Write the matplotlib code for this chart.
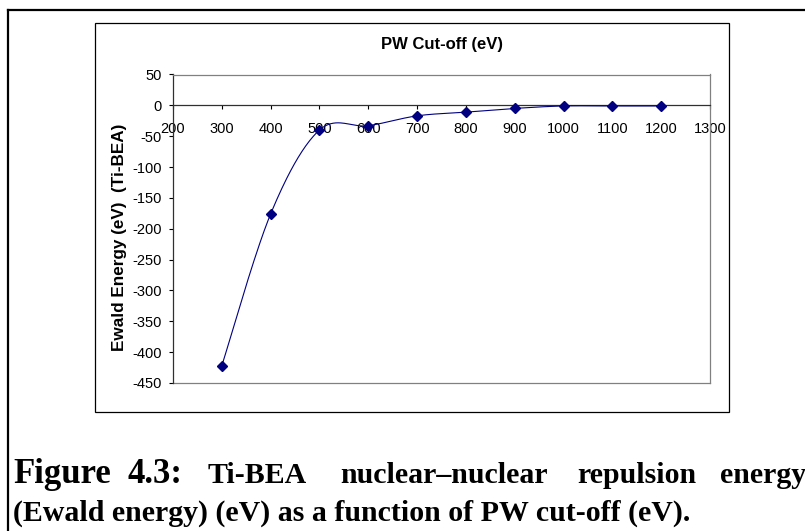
import numpy as np
import matplotlib
matplotlib.use("Agg")
import matplotlib.pyplot as plt
from matplotlib.lines import Line2D
from matplotlib.patches import Rectangle


# ==============================
# DADOS
# ==============================
cutoff_ev = [300, 400, 500, 600, 700, 800, 900, 1000, 1100, 1200]
ewald_ev = [-422, -176, -40, -33, -17, -11, -5, -1, -1, -1]

x_ticks = list(range(200, 1301, 100))
y_ticks = list(range(-450, 51, 50))

titulo = "PW Cut-off (eV)"
rotulo_y = "Ewald Energy (eV)  (Ti-BEA)"
legenda_fig = ["Figure", "4.3:"]
legenda_linha1 = ["Ti-BEA", "nuclear\u2013nuclear", "repulsion", "energy"]
legenda_linha2 = "(Ewald energy) (eV) as a function of PW cut-off (eV)."

W, H = 805, 531
AZUL = "#000080"
CINZA = "#808080"

plt.rcParams["axes.unicode_minus"] = False


def fx(px):
    return px / W


def fy(py):
    return 1 - py / H


# suavizacao tipo Excel (bezier com pontos de controle catmull-rom)
def suavizar(x, y, n=40):
    p = np.column_stack([x, y]).astype(float)
    p = np.vstack([p[0], p, p[-1]])
    t = np.linspace(0, 1, n)[:, None]
    saida = []
    for i in range(1, len(p) - 2):
        p0, p1, p2, p3 = p[i - 1], p[i], p[i + 1], p[i + 2]
        b1 = p1 + (p2 - p0) / 6
        b2 = p2 - (p3 - p1) / 6
        seg = ((1 - t) ** 3) * p1 + 3 * ((1 - t) ** 2) * t * b1 + 3 * (1 - t) * t ** 2 * b2 + t ** 3 * p2
        saida.append(seg if i == 1 else seg[1:])
    seg = np.vstack(saida)
    return seg[:, 0], seg[:, 1]


fig = plt.figure(figsize=(W / 100, H / 100), dpi=100)
ax = fig.add_axes([fx(173), fy(383), fx(710) - fx(173), fy(74.5) - fy(383)])

xs, ys = suavizar(cutoff_ev, ewald_ev)
ax.plot(xs, ys, color=AZUL, lw=0.8, zorder=3)
ax.plot(cutoff_ev, ewald_ev, linestyle="none", marker="D", markersize=5,
        color=AZUL, zorder=4)

ax.set_xlim(200, 1300)
ax.set_ylim(-450, 50)
ax.set_xticks(x_ticks)
ax.set_yticks(y_ticks)

for lado in ["top", "right"]:
    ax.spines[lado].set_color(CINZA)
    ax.spines[lado].set_linewidth(0.9)
ax.spines["left"].set_color("#303030")
ax.spines["left"].set_linewidth(0.9)
ax.spines["bottom"].set_position(("data", 0))
ax.spines["bottom"].set_color("#303030")
ax.spines["bottom"].set_linewidth(0.9)
ax.plot([0, 1], [0, 0], transform=ax.transAxes, color=CINZA, lw=0.9, clip_on=False)

ax.tick_params(axis="x", direction="out", length=3, width=0.8, pad=9,
               labelsize=10.5, colors="black")
ax.tick_params(axis="y", direction="out", length=3, width=0.8, pad=5,
               labelsize=10.5, colors="black")
for lbl in ax.get_xticklabels() + ax.get_yticklabels():
    lbl.set_family("Liberation Sans")

fig.text(fx(441.5), fy(45), titulo, ha="center", va="center",
         fontsize=12, fontweight="bold", family="Liberation Sans")
fig.text(fx(119), fy(237), rotulo_y, ha="center", va="center", rotation=90,
         fontsize=12.3, fontweight="bold", family="Liberation Sans")

# moldura do grafico e da pagina
fig.patches.append(Rectangle((fx(95), fy(412)), fx(729) - fx(95), fy(23) - fy(412),
                             transform=fig.transFigure, fill=False,
                             edgecolor="black", lw=0.9))
fig.lines.append(Line2D([fx(8), fx(8)], [0, fy(10)], transform=fig.transFigure,
                        color="black", lw=1.6))
fig.lines.append(Line2D([fx(8), 1], [fy(10), fy(10)], transform=fig.transFigure,
                        color="black", lw=1.6))

# legenda da figura (linha 1 justificada)
serif = "Liberation Serif"
for palavra, xpos in zip(legenda_fig, [13, 127]):
    fig.text(fx(xpos), fy(483), palavra, ha="left", va="baseline",
             fontsize=25, fontweight="bold", family=serif)
for palavra, xpos in zip(legenda_linha1, [208, 340, 577, 720]):
    fig.text(fx(xpos), fy(483), palavra, ha="left", va="baseline",
             fontsize=21.5, fontweight="bold", family=serif)
fig.text(fx(13), fy(521), legenda_linha2, ha="left", va="baseline",
         fontsize=21.5, fontweight="bold", family=serif)

fig.savefig("out.png", dpi=100)
